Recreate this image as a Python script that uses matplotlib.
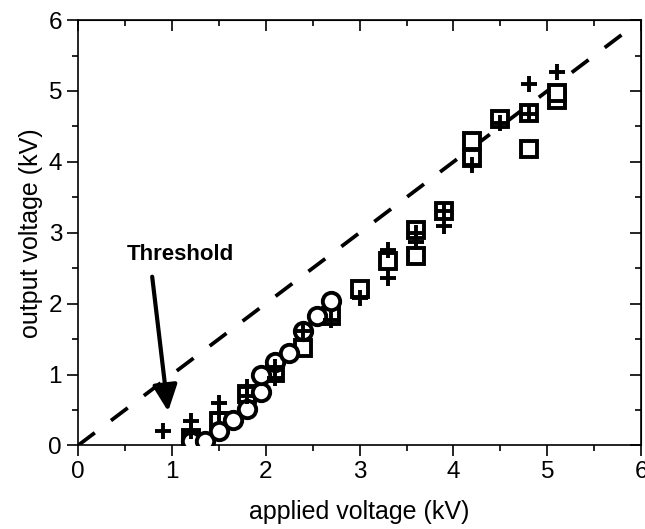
import numpy as np
import matplotlib.pyplot as plt

plt.rcParams['font.family'] = ['Liberation Sans', 'DejaVu Sans']

# open circles
circ_x = [1.2, 1.35, 1.5, 1.65, 1.8, 1.95, 1.95, 2.1, 2.25, 2.4, 2.55, 2.7]
circ_y = [0.06, 0.06, 0.2, 0.36, 0.52, 0.75, 1.0, 1.17, 1.3, 1.62, 1.83, 2.04]

# open squares
sq_x = [1.2, 1.5, 1.8, 2.1, 2.4, 2.7, 3.0, 3.3, 3.6, 3.6, 3.9, 4.2, 4.2, 4.5, 4.8, 4.8, 5.1, 5.1]
sq_y = [0.1, 0.35, 0.72, 1.02, 1.38, 1.82, 2.2, 2.6, 2.67, 3.04, 3.3, 4.05, 4.3, 4.6, 4.18, 4.69, 4.87, 4.97]

# crosses
pl_x = [0.9, 1.2, 1.2, 1.5, 1.5, 1.8, 1.8, 2.1, 2.1, 2.4, 2.7, 3.0, 3.3, 3.3, 3.6, 3.6,
        3.9, 3.9, 4.2, 4.5, 4.8, 4.8, 5.1]
pl_y = [0.2, 0.2, 0.35, 0.46, 0.6, 0.7, 0.82, 0.95, 1.1, 1.62, 1.77, 2.08, 2.36, 2.75, 2.87, 3.0,
        3.1, 3.3, 3.95, 4.55, 4.68, 5.1, 5.27]

line_x = [0, 5.8]

fig = plt.figure(figsize=(6.45, 5.29), dpi=100)
ax = fig.add_axes([0.121, 0.158, 0.873, 0.804])

ax.plot(line_x, line_x, color='black', lw=2.7, ls=(0, (5.6, 5.4)), zorder=1)
ax.plot(sq_x, sq_y, ls='none', marker='s', ms=11, mfc='white', mec='black', mew=2.8, zorder=2)
ax.plot(circ_x, circ_y, ls='none', marker='o', ms=12.5, mfc='white', mec='black', mew=2.8, zorder=3)
ax.plot(pl_x, pl_y, ls='none', marker='+', ms=12, mec='black', mew=2.8, zorder=4)

ax.text(1.09, 2.69, 'Threshold', ha='center', va='center', fontsize=16, fontweight='bold')
ax.annotate('', xy=(0.96, 0.48), xytext=(0.79, 2.38),
            arrowprops=dict(arrowstyle='-|>,head_length=1.6,head_width=0.75', color='black',
                            lw=3, shrinkA=0, shrinkB=0))

ax.set_xlim(0, 6)
ax.set_ylim(0, 6)
ax.set_xticks(np.arange(0, 7, 1))
ax.set_yticks(np.arange(0, 7, 1))
ax.set_xticks(np.arange(0, 6.1, 0.5), minor=True)
ax.set_yticks(np.arange(0, 6.1, 0.5), minor=True)
ax.tick_params(which='both', direction='out', width=1.2, labelsize=17.5)
ax.tick_params(which='major', length=8)
ax.tick_params(which='minor', length=4)
for s in ax.spines.values():
    s.set_linewidth(1.2)

# inward ticks on top and right
ax2 = ax.secondary_xaxis('top')
ax2.set_xticks(np.arange(0, 7, 1))
ax2.set_xticks(np.arange(0, 6.1, 0.5), minor=True)
ax2.tick_params(which='both', direction='in', labeltop=False, width=1.2)
ax2.tick_params(which='major', length=8)
ax2.tick_params(which='minor', length=4)
ax3 = ax.secondary_yaxis('right')
ax3.set_yticks(np.arange(0, 7, 1))
ax3.set_yticks(np.arange(0, 6.1, 0.5), minor=True)
ax3.tick_params(which='both', direction='in', labelright=False, width=1.2)
ax3.tick_params(which='major', length=8)
ax3.tick_params(which='minor', length=4)

ax.set_xlabel('applied voltage (kV)', fontsize=18, labelpad=12)
ax.set_ylabel('output voltage (kV)', fontsize=18, labelpad=4)

fig.savefig('out.png', dpi=100)
